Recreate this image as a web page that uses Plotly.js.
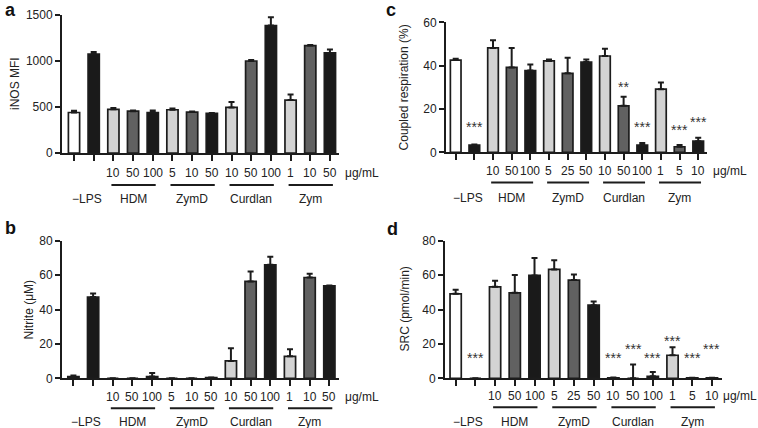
<!DOCTYPE html>
<html>
<head>
<meta charset="utf-8">
<script src="https://cdn.plot.ly/plotly-3.0.1.min.js"></script>
<style>
  body { margin: 0; background: #fff; }
  #chart { width: 758px; height: 428px; }
</style>
</head>
<body>
<div id="chart"></div>
<script>
// bar order: -LPS, +LPS, then 3 doses each of HDM, ZymD, Curdlan, Zym
var barIdx = [0, 1, 2, 3, 4, 5, 6, 7, 8, 9, 10, 11, 12, 13];

// panel a: iNOS MFI
var inosMean = [440, 1075, 475, 455, 440, 470, 445, 430, 495, 1000, 1385, 575, 1168, 1088];
var inosErr  = [20, 22, 15, 8, 22, 15, 5, 5, 60, 10, 90, 60, 5, 38];

// panel b: nitrite (uM)
var nitMean = [1.0, 47.2, 0, 0, 1.0, 0, 0, 0.4, 10.1, 56.3, 66.0, 12.8, 58.6, 53.8];
var nitErr  = [0.6, 2.1, 0, 0, 2.1, 0, 0, 0, 7.4, 5.8, 4.7, 4.1, 2.2, 0.2];

// panel c: coupled respiration (%)
var crMean = [42.6, 3.4, 48.2, 39.2, 37.8, 42.2, 36.5, 41.7, 44.5, 21.5, 3.4, 29.2, 2.6, 5.2];
var crErr  = [0.6, 0.3, 3.6, 9.0, 2.8, 0.7, 7.2, 1.2, 3.3, 4.2, 0.9, 3.1, 0.8, 1.6];

// panel d: SRC (pmol/min)
var srcMean = [49.1, 0, 53.2, 49.7, 59.8, 63.3, 57.1, 42.5, 0.3, 0, 1.2, 13.4, 0.3, 0.3];
var srcErr  = [2.4, 0, 3.5, 10.3, 10.1, 5.4, 3.3, 2.2, 0.2, 8.0, 2.5, 4.7, 0, 0];

// significance marks and the level they are printed at
var crSig  = ['', '***', '', '', '', '', '', '', '', '**', '***', '', '***', '***'];
var crSigY = [0, 13, 0, 0, 0, 0, 0, 0, 0, 31.5, 13, 0, 11.8, 15.5];
var srcSig  = ['', '***', '', '', '', '', '', '', '***', '***', '***', '***', '***', '***'];
var srcSigY = [0, 13.3, 0, 0, 0, 0, 0, 0, 13.3, 18.7, 13.3, 23.2, 13.3, 18.7];

// dose tick labels (ug/mL)
var dosesAB = ['', '', '10', '50', '100', '5', '10', '50', '10', '50', '100', '1', '10', '50'];
var dosesCD = ['', '', '10', '50', '100', '5', '25', '50', '10', '50', '100', '1', '5', '10'];
var groupNames = ['HDM', 'ZymD', 'Curdlan', 'Zym'];
var groupStart = [2, 5, 8, 11];

var INK = '#1c1c1c';
var fills = ['#ffffff', '#1a1a1a', '#d3d3d3', '#616161', '#1a1a1a', '#d3d3d3', '#616161', '#1a1a1a',
             '#d3d3d3', '#616161', '#1a1a1a', '#d3d3d3', '#616161', '#1a1a1a'];
var FONT = 'Liberation Sans, Arial, Helvetica, sans-serif';
var H = 428;

var panels = [
  {id: '',  letter: 'a', title: 'iNOS MFI', mean: inosMean, err: inosErr, doses: dosesAB,
   xdom: [62/758, 339/758], ydom: [1-153/H, 1-15/H], xr: [-0.61, 13.46], yr: [0, 1500],
   ytv: [0, 500, 1000, 1500], tshift: -47, unitShift: 13, rows: [-20, -32, -46],
   lx: 0.004, ly: 1 - 10/H},
  {id: '2', letter: 'b', title: 'Nitrite (\u03bcM)', mean: nitMean, err: nitErr, doses: dosesAB,
   xdom: [62/758, 339/758], ydom: [1-378.3/H, 1-240.7/H], xr: [-0.58, 13.49], yr: [0, 80],
   ytv: [0, 20, 40, 60, 80], tshift: -34, unitShift: 14, rows: [-18.5, -30, -44],
   lx: 0.004, ly: 1 - 228/H},
  {id: '3', letter: 'c', title: 'Coupled respiration (%)', mean: crMean, err: crErr, doses: dosesCD,
   xdom: [446/758, 707/758], ydom: [1-152.4/H, 1-22.4/H], xr: [-0.52, 13.47], yr: [0, 60],
   ytv: [0, 20, 40, 60], tshift: -42, unitShift: 13, rows: [-19, -30, -46],
   sig: crSig, sigY: crSigY, lx: 384/758, ly: 1 - 10/H},
  {id: '4', letter: 'd', title: 'SRC (pmol/min)', mean: srcMean, err: srcErr, doses: dosesCD,
   xdom: [445/758, 722/758], ydom: [1-378.3/H, 1-240.7/H], xr: [-0.54, 13.51], yr: [0, 80],
   ytv: [0, 20, 40, 60, 80], tshift: -41, unitShift: 9, rows: [-17.5, -29, -44],
   sig: srcSig, sigY: srcSigY, lx: 385/758, ly: 1 - 229/H}
];

var data = [];
var annotations = [];
var shapes = [];
var layout = {
  width: 758, height: 428,
  margin: {l: 0, r: 0, t: 0, b: 0},
  paper_bgcolor: '#fff', plot_bgcolor: 'rgba(0,0,0,0)',
  showlegend: false,
  font: {family: FONT, size: 12, color: '#222'},
  bargap: 0.43
};

panels.forEach(function(p) {
  var xa = 'x' + p.id, ya = 'y' + p.id;
  var zeros = p.mean.map(function() { return 0; });

  data.push({
    type: 'bar', x: barIdx, y: p.mean, xaxis: xa, yaxis: ya,
    width: 0.57,
    marker: {color: fills, line: {color: INK, width: 1.7}},
    error_y: {type: 'data', symmetric: false, array: p.err, arrayminus: zeros,
              color: INK, thickness: 2, width: 3},
    hoverinfo: 'y'
  });

  layout['xaxis' + p.id] = {
    domain: p.xdom, anchor: ya, range: p.xr, fixedrange: true,
    showline: true, linecolor: INK, linewidth: 2, zeroline: false, showgrid: false,
    tickmode: 'array', tickvals: barIdx, ticks: 'outside', ticklen: 6, tickwidth: 2,
    tickcolor: INK, showticklabels: false
  };
  layout['yaxis' + p.id] = {
    domain: p.ydom, anchor: xa, range: p.yr, fixedrange: true,
    showline: true, linecolor: INK, linewidth: 2, zeroline: false, showgrid: false,
    tickmode: 'array', tickvals: p.ytv, ticks: 'outside', ticklen: 5, tickwidth: 2,
    tickcolor: INK, tickfont: {size: 12, color: '#222'}
  };

  // y axis title
  annotations.push({
    xref: xa + ' domain', yref: ya + ' domain', x: 0, y: 0.5, xshift: p.tshift,
    xanchor: 'center', yanchor: 'middle',
    text: p.title, textangle: -90, showarrow: false,
    font: {size: 12, color: '#222'}
  });
  // panel letter
  annotations.push({
    xref: 'paper', yref: 'paper', x: p.lx, y: p.ly, xanchor: 'left', yanchor: 'middle',
    text: '<b>' + p.letter + '</b>', showarrow: false,
    font: {size: 18, color: '#111'}
  });

  // dose labels
  p.doses.forEach(function(d, i) {
    if (!d) return;
    annotations.push({
      xref: xa, yref: ya, x: barIdx[i], y: 0, yshift: p.rows[0],
      xanchor: 'center', text: d, showarrow: false, font: {size: 12, color: '#222'}
    });
  });
  annotations.push({
    xref: xa, yref: ya, x: barIdx[13], y: 0, yshift: p.rows[0], xshift: p.unitShift,
    xanchor: 'left', text: '\u03bcg/mL', showarrow: false, font: {size: 12, color: '#222'}
  });

  // group underlines and names
  var lineY = p.ydom[0] + p.rows[1] / H;
  groupStart.forEach(function(g, k) {
    shapes.push({
      type: 'line', xref: xa, yref: 'paper', x0: barIdx[g] - 0.1, x1: barIdx[g + 2] + 0.15,
      y0: lineY, y1: lineY, line: {color: INK, width: 2}
    });
    annotations.push({
      xref: xa, yref: ya, x: barIdx[g + 1], y: 0, yshift: p.rows[2],
      xanchor: 'center', text: groupNames[k], showarrow: false, font: {size: 12, color: '#222'}
    });
  });
  annotations.push({
    xref: xa, yref: ya, x: 0.65, y: 0, yshift: p.rows[2],
    xanchor: 'center', text: '\u2212LPS', showarrow: false, font: {size: 12, color: '#222'}
  });

  // significance stars
  if (p.sig) {
    p.sig.forEach(function(s, i) {
      if (!s) return;
      annotations.push({
        xref: xa, yref: ya, x: barIdx[i], y: p.sigY[i], yshift: -3,
        xanchor: 'center', text: s, showarrow: false, font: {size: 14, color: '#333'}
      });
    });
  }
});

layout.annotations = annotations;
layout.shapes = shapes;

Plotly.newPlot('chart', data, layout, {displayModeBar: false, staticPlot: true});
</script>
</body>
</html>
